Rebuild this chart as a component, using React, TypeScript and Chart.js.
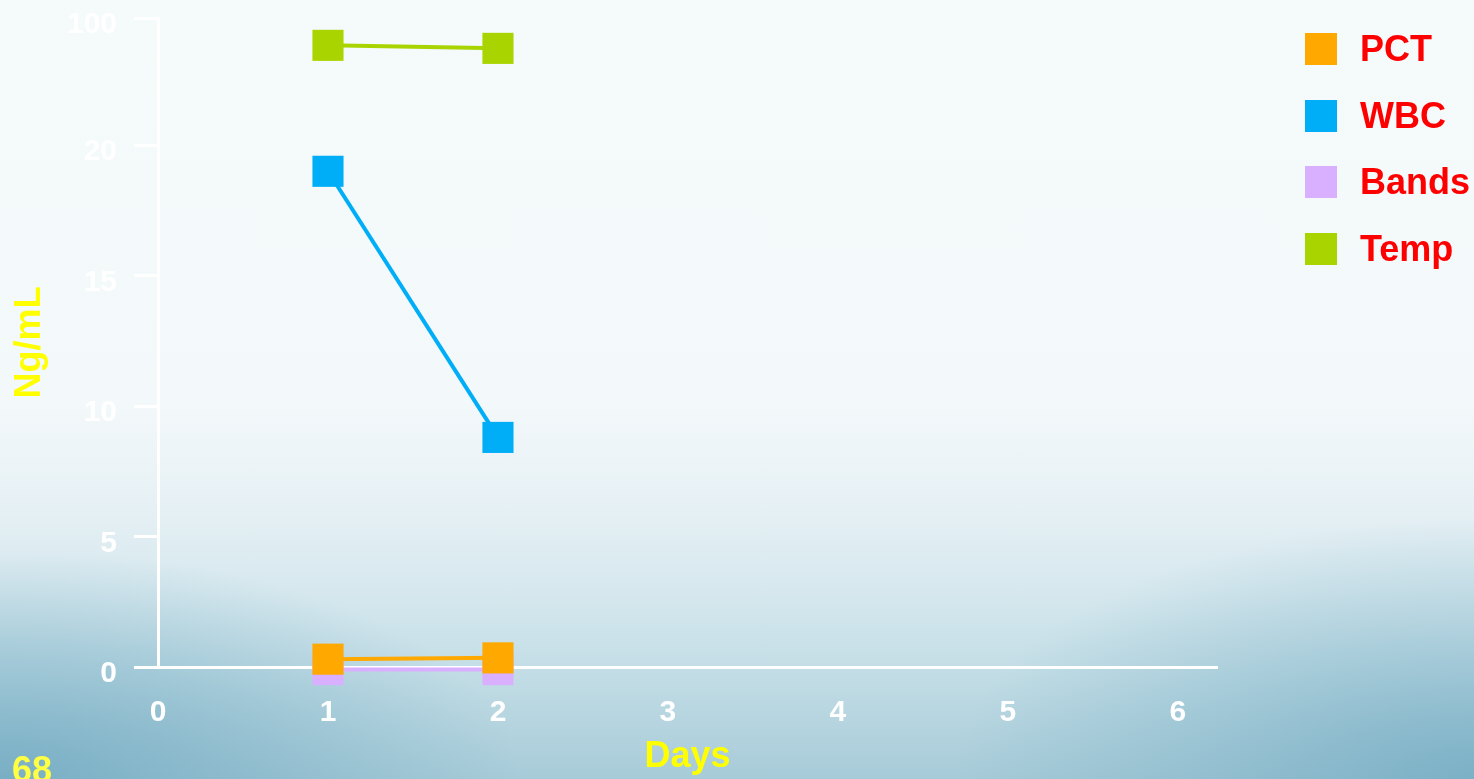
import React, { useEffect, useRef } from 'react';
import { Chart, registerables, LinearScale } from 'chart.js';

// ---- data ----
const days = [1, 2];
const seriesNames = ['PCT', 'WBC', 'Bands', 'Temp'];
const pctValues = [0.3, 0.35];
const wbcValues = [19.0, 8.8];
const bandsValues = [-0.1, -0.1];
const tempValues = [82.8, 80.9];
const yTickValues = [0, 5, 10, 15, 20, 100];
const yTickLabels = ['0', '5', '10', '15', '20', '100'];
const xTickLabels = ['0', '1', '2', '3', '4', '5', '6'];

// ---- styles ----
const seriesColors = ['#FFA800', '#00AEF7', '#D8B0FF', '#AAD400'];
const FONT = "'Liberation Sans', Arial, sans-serif";

// broken axis: 0..20 linear on the lower part, 20..100 compressed on top
const yBreakValues = [0, 20, 100];
const yBreakFractions = [0, 0.804, 1];

function valueToFraction(v: number): number {
  const b = yBreakValues;
  const f = yBreakFractions;
  let i = 0;
  if (v >= b[1]) i = 1;
  const t = (v - b[i]) / (b[i + 1] - b[i]);
  return f[i] + t * (f[i + 1] - f[i]);
}
function fractionToValue(fr: number): number {
  const b = yBreakValues;
  const f = yBreakFractions;
  let i = 0;
  if (fr >= f[1]) i = 1;
  const t = (fr - f[i]) / (f[i + 1] - f[i]);
  return b[i] + t * (b[i + 1] - b[i]);
}

class BrokenLinearScale extends (LinearScale as any) {
  static id = 'brokenLinear';
  static defaults = {};
  buildTicks() {
    return yTickValues.map((v) => ({ value: v }));
  }
  getPixelForValue(value: number) {
    return (this as any).getPixelForDecimal(valueToFraction(value));
  }
  getValueForPixel(pixel: number) {
    return fractionToValue((this as any).getDecimalForPixel(pixel));
  }
}

Chart.register(...registerables, BrokenLinearScale as any);

const seriesValues = [pctValues, wbcValues, bandsValues, tempValues];

export default function App() {
  const ref = useRef<HTMLCanvasElement | null>(null);

  useEffect(() => {
    if (!ref.current) return;
    const chart = new Chart(ref.current, {
      type: 'line',
      data: {
        datasets: seriesNames.map((name, i) => ({
          label: name,
          data: days.map((d, j) => ({ x: d, y: seriesValues[i][j] })),
          borderColor: seriesColors[i],
          backgroundColor: seriesColors[i],
          pointBackgroundColor: seriesColors[i],
          borderWidth: 4,
          pointStyle: 'rect',
          pointRadius: 22,
          pointHoverRadius: 22,
          pointBorderWidth: 0,
          tension: 0,
          clip: false as any,
        })),
      },
      options: {
        animation: false,
        responsive: false,
        maintainAspectRatio: false,
        layout: { autoPadding: false, padding: { left: 0, top: 18, right: 257, bottom: 0 } },
        plugins: { legend: { display: false }, tooltip: { enabled: false } },
        scales: {
          x: {
            type: 'linear',
            min: 0,
            max: 6.23,
            afterFit: (s: any) => {
              s.height = 112;
              s.paddingLeft = 0;
              s.paddingRight = 0;
            },
            grid: { display: false, drawTicks: false },
            border: { display: true, color: '#ffffff', width: 3 },
            ticks: {
              stepSize: 1,
              includeBounds: false,
              padding: 28,
              color: '#ffffff',
              font: { family: FONT, size: 30, weight: 'bold' },
              callback: (v: any) => xTickLabels[Math.round(Number(v))] ?? '',
              maxRotation: 0,
              autoSkip: false,
            },
            title: {
              display: true,
              text: 'Days',
              color: '#FFFF00',
              font: { family: FONT, size: 36, weight: 'bold' },
              padding: { top: 0, bottom: 0 },
            },
          },
          y: {
            type: 'brokenLinear' as any,
            min: 0,
            max: 100,
            afterFit: (s: any) => {
              s.width = 158;
              s.paddingTop = 0;
              s.paddingBottom = 0;
            },
            grid: {
              drawOnChartArea: false,
              drawTicks: true,
              tickLength: 24,
              color: '#ffffff',
              lineWidth: 3,
            },
            border: { display: true, color: '#ffffff', width: 3 },
            ticks: {
              padding: 17,
              labelOffset: 7,
              color: '#ffffff',
              font: { family: FONT, size: 30, weight: 'bold' },
              callback: (_v: any, idx: number) => yTickLabels[idx],
              autoSkip: false,
            },
            title: {
              display: true,
              text: 'Ng/mL',
              color: '#FFFF00',
              font: { family: FONT, size: 36, weight: 'bold' },
              padding: { top: 8, bottom: 0 },
            },
          } as any,
        },
      },
    });
    return () => chart.destroy();
  }, []);

  return (
    <div
      style={{
        position: 'fixed',
        left: 0,
        top: 0,
        width: 1474,
        height: 779,
        overflow: 'hidden',
        background: [
          'radial-gradient(ellipse 520px 230px at 0px 779px, rgba(105,165,190,0.75) 0%, rgba(105,165,190,0.35) 55%, rgba(105,165,190,0) 100%)',
          'radial-gradient(ellipse 520px 260px at 1474px 779px, rgba(105,165,190,0.7) 0%, rgba(105,165,190,0.3) 55%, rgba(105,165,190,0) 100%)',
          'linear-gradient(to bottom, #f5fafb 0%, #f3f8fa 52%, #e7f1f5 64%, #d6e8ee 76%, #c1dce5 87%, #a7cbd8 100%)',
        ].join(', '),
        fontFamily: FONT,
      }}
    >
      <canvas ref={ref} width={1474} height={779} style={{ position: 'absolute', left: 0, top: 0 }} />
      <div
        style={{
          position: 'absolute',
          left: 1305,
          top: 33,
          display: 'flex',
          flexDirection: 'column',
          gap: 34.7,
        }}
      >
        {seriesNames.map((name, i) => (
          <div key={name} style={{ display: 'flex', alignItems: 'center', height: 32 }}>
            <div style={{ width: 32, height: 32, background: seriesColors[i] }} />
            <span
              style={{
                marginLeft: 23,
                color: '#FF0000',
                fontWeight: 'bold',
                fontSize: 36,
                lineHeight: '32px',
                whiteSpace: 'nowrap',
              }}
            >
              {name}
            </span>
          </div>
        ))}
      </div>
      <div
        style={{
          position: 'absolute',
          left: 12,
          top: 752,
          color: '#FFFF44',
          fontWeight: 'bold',
          fontSize: 36,
          lineHeight: '36px',
        }}
      >
        68
      </div>
    </div>
  );
}
